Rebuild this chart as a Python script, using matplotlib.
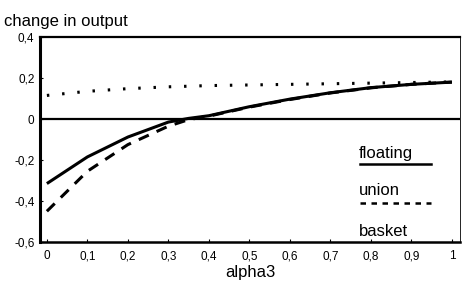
import matplotlib
matplotlib.use("Agg")
import matplotlib.pyplot as plt
from matplotlib.lines import Line2D

plt.rcParams["font.family"] = ["Liberation Sans", "DejaVu Sans"]

alpha3 = [0.0, 0.1, 0.2, 0.3, 0.35, 0.4, 0.5, 0.6, 0.7, 0.8, 0.9, 1.0]
floating = [-0.315, -0.185, -0.088, -0.015, 0.003, 0.016, 0.06, 0.097, 0.128, 0.153, 0.169, 0.18]
union = [-0.45, -0.255, -0.125, -0.035, -0.003, 0.014, 0.058, 0.095, 0.127, 0.152, 0.169, 0.18]
basket = [0.115, 0.135, 0.148, 0.157, 0.16, 0.163, 0.166, 0.169, 0.172, 0.175, 0.178, 0.181]

xticks = [0, 0.1, 0.2, 0.3, 0.4, 0.5, 0.6, 0.7, 0.8, 0.9, 1.0]
xticklabels = ["0", "0,1", "0,2", "0,3", "0,4", "0,5", "0,6", "0,7", "0,8", "0,9", "1"]
yticks = [-0.6, -0.4, -0.2, 0, 0.2, 0.4]
yticklabels = ["-0,6", "-0,4", "-0,2", "0", "0,2", "0,4"]

fig = plt.figure(figsize=(4.62, 2.97), dpi=100)
ax = fig.add_axes([40 / 462, 55 / 297, 420 / 462, 205 / 297])

ax.axhline(0, color="black", linewidth=1.6, zorder=1)
ax.plot(alpha3, floating, color="black", linewidth=2.2, solid_capstyle="butt", zorder=3)
ax.plot(alpha3, union, color="black", linewidth=2.2, linestyle=(0, (3.6, 2.8)), zorder=3)
ax.plot(alpha3, basket, color="black", linewidth=2.2, linestyle=(0, (0.8, 4.2)), zorder=3)

ax.set_xlim(-0.017, 1.02)
ax.set_ylim(-0.6, 0.4)
ax.set_xticks(xticks)
ax.set_xticklabels(xticklabels)
ax.set_yticks(yticks)
ax.set_yticklabels(yticklabels)
ax.tick_params(axis="both", direction="in", length=2, width=0.8, labelsize=8.5)
ax.tick_params(axis="x", pad=6)
ax.tick_params(axis="y", pad=4)

ax.spines["left"].set_linewidth(2.2)
ax.spines["bottom"].set_linewidth(1.8)
ax.spines["top"].set_linewidth(1.6)
ax.spines["right"].set_linewidth(0.6)

ax.set_xlabel("alpha3", fontsize=12, labelpad=2)
fig.text(4 / 462, 1 - 26 / 297, "change in output", fontsize=12, ha="left", va="baseline")

# hand-drawn style legend: label text with a sample line beneath
tr = ax.transAxes
def ax_xy(px, py):
    return ((px - 40) / 420, (242 - py) / 205)

x0, _ = ax_xy(360, 0)
x1, _ = ax_xy(431, 0)
for label, text_y, line_y, style in [
    ("floating", 158, 164, "-"),
    ("union", 195, 203, (0, (2.2, 2.2))),
    ("basket", 236, None, None),
]:
    tx, ty = ax_xy(359, text_y)
    ax.text(tx, ty, label, transform=tr, fontsize=12, ha="left", va="baseline")
    if line_y is not None:
        _, ly = ax_xy(0, line_y)
        ax.add_line(Line2D([x0, x1], [ly, ly], transform=tr, color="black",
                           linewidth=1.8, linestyle=style))

fig.savefig("out.png", dpi=100)
